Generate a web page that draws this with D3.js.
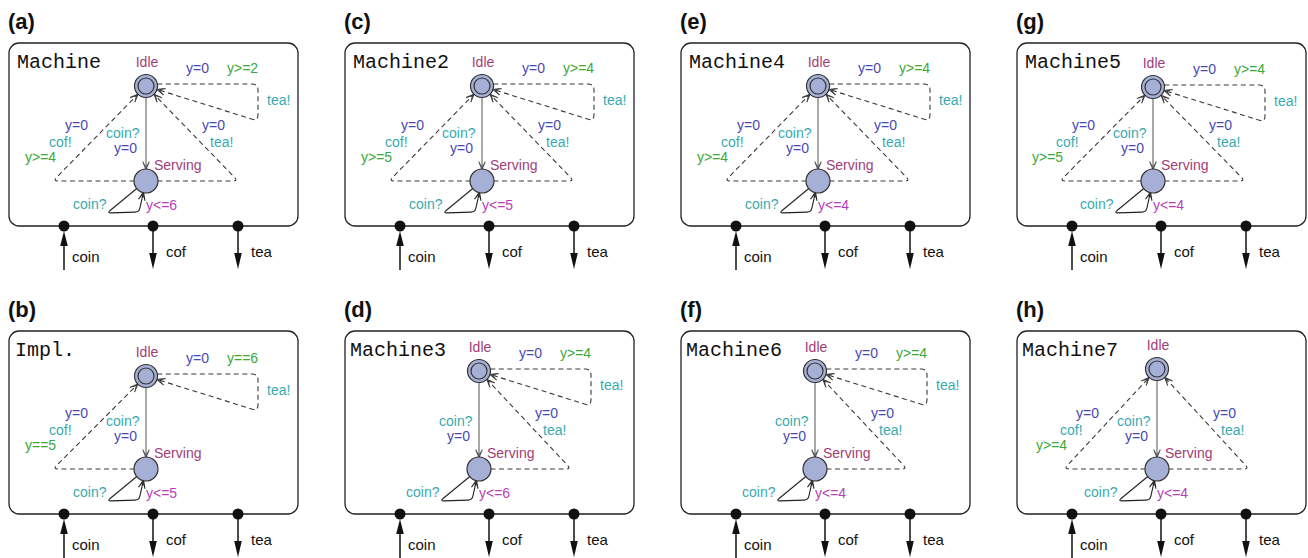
<!DOCTYPE html>
<html><head><meta charset="utf-8">
<script src="https://cdn.jsdelivr.net/npm/d3@7"></script>
<style>body{margin:0;background:#fff}</style>
</head><body><svg id="c" width="1308" height="558"></svg>
<script>
// ---- data ----
const panelIds = ["(a)","(b)","(c)","(d)","(e)","(f)","(g)","(h)"];
const machineNames = ["Machine","Impl.","Machine2","Machine3","Machine4","Machine6","Machine5","Machine7"];
const teaLoopGuards = ["y>=2","y==6","y>=4","y>=4","y>=4","y>=4","y>=4",null];
const cofGuards = ["y>=4","y==5","y>=5",null,"y>=4",null,"y>=5","y>=4"];
const hasServeTea = [true,false,true,true,true,true,true,true];
const invariants = ["y<=6","y<=5","y<=5","y<=6","y<=4","y<=4","y<=4","y<=4"];
const locations = ["Idle","Serving"];
const portNames = ["coin","cof","tea"];
const portDirs = ["in","out","out"];
const resetLabel = "y=0";
const coinSync = "coin?", cofSync = "cof!", teaSync = "tea!";

// ---- style ----
const COL = {loc:"#a13d77", assign:"#4848b4", guard:"#3aa83a", sync:"#38aab0", inv:"#b63fb6", node:"#a6afd6"};
const SANS = "'Liberation Sans', Arial, Helvetica, sans-serif";
const MONO = "'Liberation Mono', 'Courier New', monospace";

const svg = d3.select("#c");
const colX = d3.scaleBand().domain(d3.range(4)).range([0,1344]);
const rowY = d3.scaleBand().domain(d3.range(2)).range([0,576]);
const contentDx = [0,0,0,-3,0,-3,-1,3];
const idleDy = [0,2,0,-3,0,-3,1,-5];
const nameDx = [0,-2,0,-3,0,-3,0,-3];
const portX = d3.scalePoint().domain(portNames).range([64,238]);
const portXs = [64,153,238];

function f(p){return p[0].toFixed(2)+","+p[1].toFixed(2);}
function rounded(pts, r){
  let d = "M"+f(pts[0]);
  for(let k=1;k<pts.length-1;k++){
    const p0=pts[k-1], p=pts[k], p1=pts[k+1];
    const v0=[p0[0]-p[0],p0[1]-p[1]], v1=[p1[0]-p[0],p1[1]-p[1]];
    const l0=Math.hypot(v0[0],v0[1]), l1=Math.hypot(v1[0],v1[1]);
    const rr=Math.min(r,l0/2,l1/2);
    const a=[p[0]+v0[0]/l0*rr,p[1]+v0[1]/l0*rr], b=[p[0]+v1[0]/l1*rr,p[1]+v1[1]/l1*rr];
    d+="L"+f(a)+"Q"+f(p)+" "+f(b);
  }
  d+="L"+f(pts[pts.length-1]);
  return d;
}
function trim(c, t, r){
  const dx=t[0]-c[0], dy=t[1]-c[1], l=Math.hypot(dx,dy);
  return [c[0]+dx/l*r, c[1]+dy/l*r];
}
function chevron(g, tip, from, color){
  const dx=tip[0]-from[0], dy=tip[1]-from[1], l=Math.hypot(dx,dy);
  const ux=dx/l, uy=dy/l, px=-uy, py=ux;
  const L=8, W=3.3;
  const p1=[tip[0]-ux*L+px*W, tip[1]-uy*L+py*W], p2=[tip[0]-ux*L-px*W, tip[1]-uy*L-py*W];
  g.append("path").attr("d","M"+f(p1)+"L"+f(tip)+"L"+f(p2))
    .attr("fill","none").attr("stroke",color).attr("stroke-width",1.1);
  const q1=[tip[0]-ux*L*0.7+px*W*0.6, tip[1]-uy*L*0.7+py*W*0.6], q2=[tip[0]-ux*L*0.7-px*W*0.6, tip[1]-uy*L*0.7-py*W*0.6];
  g.append("path").attr("d","M"+f(q1)+"L"+f([tip[0]-ux*2,tip[1]-uy*2])+"L"+f(q2))
    .attr("fill","none").attr("stroke",color).attr("stroke-width",0.9);
}
function label(g, x, y, txt, color, size, anchor){
  g.append("text").attr("x",x).attr("y",y).text(txt)
    .attr("fill",color).attr("font-family",SANS).attr("font-size",size||14)
    .attr("text-anchor",anchor||"start");
}

const R = 11.5;
panelIds.forEach((pid,i)=>{
  const col=Math.floor(i/2), row=i%2;
  const g = svg.append("g").attr("transform",`translate(${colX(col)},${rowY(row)})`);
  g.append("text").attr("x",8).attr("y",29).text(pid)
    .attr("font-family",SANS).attr("font-weight","bold").attr("font-size",22).attr("fill","#111");
  g.append("rect").attr("x",9).attr("y",43).attr("width",289).attr("height",183).attr("rx",10)
    .attr("fill","none").attr("stroke","#222").attr("stroke-width",1.3);
  g.append("text").attr("x",17+nameDx[i]).attr("y",68).text(machineNames[i])
    .attr("font-family",MONO).attr("font-size",20).attr("fill","#111");

  const cg = g.append("g").attr("transform",`translate(${contentDx[i]},0)`);
  const iy = 86+idleDy[i];
  const I=[146,iy], S=[146,181];
  const dash="5,3.5", dcol="#3a3a3a";

  // Idle -> Serving (coin?)
  const a0=trim(I,S,R), a1=trim(S,I,R);
  cg.append("line").attr("x1",a0[0]).attr("y1",a0[1]).attr("x2",a1[0]).attr("y2",a1[1])
    .attr("stroke","#7a7a7a").attr("stroke-width",1.3);
  chevron(cg,a1,a0,"#555");
  label(cg,106,138,coinSync,COL.sync);
  label(cg,114,153,resetLabel,COL.assign);

  // Idle self loop tea!
  if(teaLoopGuards[i]){
    const yTop=iy-2, yBot=iy+35;
    const st=[146+Math.sqrt(R*R-4), yTop];
    const en=trim(I,[258,yBot],R);
    cg.append("path").attr("d",rounded([st,[258,yTop],[258,yBot],en],6))
      .attr("fill","none").attr("stroke",dcol).attr("stroke-width",1.1).attr("stroke-dasharray",dash);
    chevron(cg,en,[258,yBot],dcol);
    label(cg,186,iy-13,resetLabel,COL.assign);
    label(cg,227,iy-13,teaLoopGuards[i],COL.guard);
    label(cg,267,iy+19,teaSync,COL.sync);
  }
  // Serving -> Idle cof!
  if(cofGuards[i]){
    const c=[53,181];
    const st=trim(S,c,R), en=trim(I,c,R);
    cg.append("path").attr("d",rounded([st,c,en],5))
      .attr("fill","none").attr("stroke",dcol).attr("stroke-width",1.1).attr("stroke-dasharray",dash);
    chevron(cg,en,c,dcol);
    label(cg,65,130,resetLabel,COL.assign);
    label(cg,49,147,cofSync,COL.sync);
    label(cg,25,162,cofGuards[i],COL.guard);
  }
  // Serving -> Idle tea!
  if(hasServeTea[i]){
    const c=[238,181];
    const st=trim(S,c,R), en=trim(I,c,R);
    cg.append("path").attr("d",rounded([st,c,en],5))
      .attr("fill","none").attr("stroke",dcol).attr("stroke-width",1.1).attr("stroke-dasharray",dash);
    chevron(cg,en,c,dcol);
    label(cg,202,130,resetLabel,COL.assign);
    label(cg,210,147,teaSync,COL.sync);
  }
  // Serving self loop coin?
  {
    const p1=[107,213], p2=[139,212];
    const st=trim(S,p1,R), en=trim(S,p2,R);
    cg.append("path").attr("d",rounded([st,p1,p2,en],4))
      .attr("fill","none").attr("stroke","#222").attr("stroke-width",1.1);
    chevron(cg,en,p2,"#222");
    label(cg,73,209,coinSync,COL.sync);
    label(cg,146,210,invariants[i],COL.inv);
  }
  // nodes
  cg.append("circle").attr("cx",I[0]).attr("cy",I[1]).attr("r",R)
    .attr("fill",COL.node).attr("stroke","#333").attr("stroke-width",1.2);
  cg.append("circle").attr("cx",I[0]).attr("cy",I[1]).attr("r",8)
    .attr("fill","none").attr("stroke","#333").attr("stroke-width",1.2);
  cg.append("circle").attr("cx",S[0]).attr("cy",S[1]).attr("r",R+0.5)
    .attr("fill",COL.node).attr("stroke","#333").attr("stroke-width",1.2);
  label(cg,147,iy-19,locations[0],COL.loc,14,"middle");
  label(cg,154,170,locations[1],COL.loc);

  // ports
  portNames.forEach((pn,k)=>{
    const x=portXs[k];
    if(portDirs[k]==="in"){
      g.append("line").attr("x1",x).attr("y1",270).attr("x2",x).attr("y2",244)
        .attr("stroke","#111").attr("stroke-width",1.5);
      g.append("path").attr("d",`M${x},231L${x+3.8},246L${x-3.8},246Z`).attr("fill","#111");
    } else {
      g.append("line").attr("x1",x).attr("y1",226).attr("x2",x).attr("y2",256)
        .attr("stroke","#111").attr("stroke-width",1.5);
      g.append("path").attr("d",`M${x},269L${x+3.8},253L${x-3.8},253Z`).attr("fill","#111");
    }
    g.append("circle").attr("cx",x).attr("cy",226).attr("r",5.5).attr("fill","#111");
    label(g, x+(k===0?8:13), k===0?262:257, pn, "#111", 15);
  });
});
</script></body></html>
